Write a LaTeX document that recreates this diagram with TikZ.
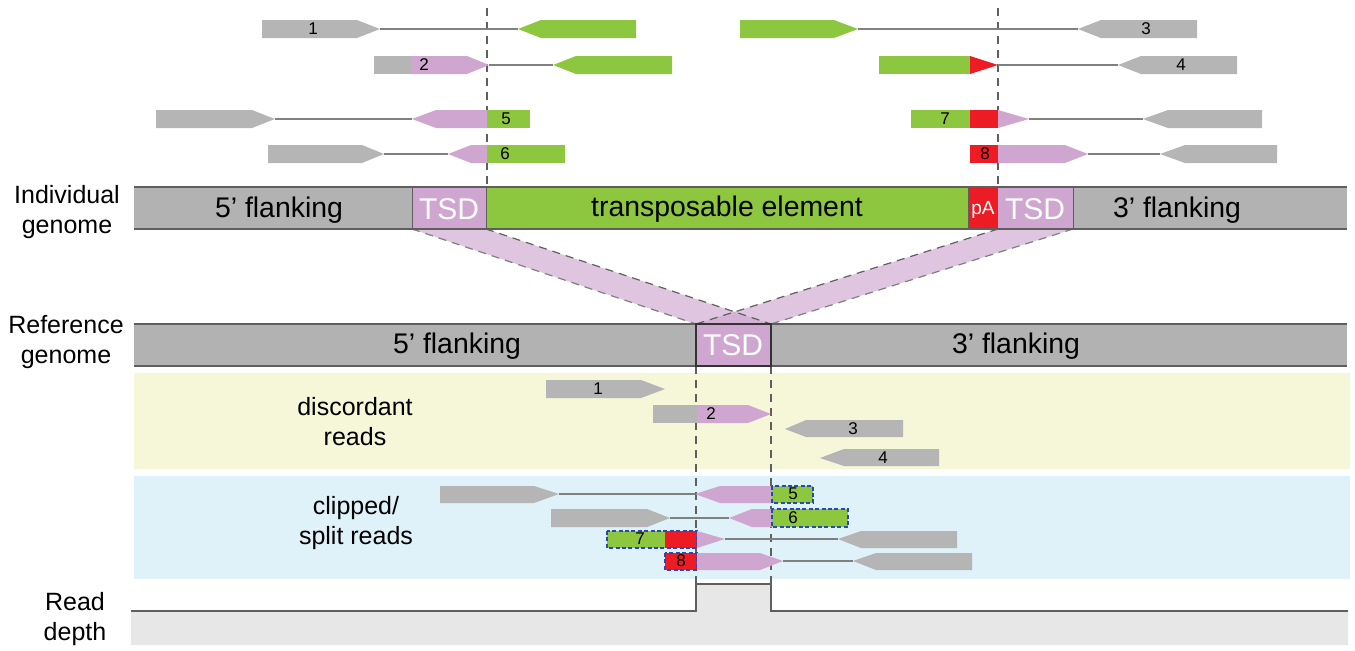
\documentclass[tikz,border=0pt]{standalone}
\usepackage{fontspec}
\setmainfont{Liberation Sans}
\definecolor{rdgray}{RGB}{181,181,181}
\definecolor{bargray}{RGB}{178,178,178}
\definecolor{tegreen}{RGB}{141,198,63}
\definecolor{tsdpink}{RGB}{207,166,207}
\definecolor{pared}{RGB}{237,28,36}
\definecolor{bandyellow}{RGB}{246,246,216}
\definecolor{bandblue}{RGB}{223,241,249}
\definecolor{clipblue}{RGB}{40,70,190}
\definecolor{depthgray}{RGB}{231,231,231}
\definecolor{edgegray}{RGB}{95,95,95}

\begin{document}
\begin{tikzpicture}[x=0.5pt, y=-0.5pt,
    lnk/.style={draw=black!50, line width=0.6pt},
    guide/.style={draw=edgegray, line width=0.6pt, dash pattern=on 4pt off 3pt},
    clipbox/.style={draw=clipblue, line width=0.9pt, dash pattern=on 2pt off 1.2pt},
    barline/.style={draw=edgegray, line width=0.8pt},
    num/.style={font=\fontsize{8.5}{9}\selectfont},
    big/.style={font=\fontsize{14.2}{16}\selectfont},
    tsd/.style={font=\fontsize{15}{16}\selectfont, text=white},
    side/.style={font=\fontsize{12.5}{15}\selectfont, align=center}]

    \useasboundingbox (0,0) rectangle (1355,650);

    %bands
    \fill[bandyellow] (134,373) rectangle (1350,469);
    \fill[bandblue] (134,476) rectangle (1350,579);

    %guides
    \draw[guide] (487,8) -- (487,187);
    \draw[guide] (998,8) -- (998,187);
    \draw[guide] (696,366) -- (696,586);
    \draw[guide] (771,366) -- (771,586);

    %funnel
    \fill[tsdpink, opacity=0.65] (412,229) -- (486,229) -- (771,324) -- (696,324) -- cycle;
    \fill[tsdpink, opacity=0.65] (998,229) -- (1073,229) -- (771,324) -- (696,324) -- cycle;
    \draw[guide, draw=edgegray!80] (412,229) -- (696,324);
    \draw[guide] (486,229) -- (771,324);
    \draw[guide] (998,229) -- (696,324);
    \draw[guide, draw=edgegray!80] (1073,229) -- (771,324);

    %individual genome
    \fill[bargray] (134,187) rectangle (412,229);
    \fill[tsdpink] (412,187) rectangle (486,229);
    \fill[tegreen] (486,187) rectangle (968,229);
    \fill[pared] (968,187) rectangle (998,229);
    \fill[tsdpink] (998,187) rectangle (1073,229);
    \fill[bargray] (1073,187) rectangle (1347,229);
    \draw[barline] (134,187) -- (1347,187) (134,229) -- (1347,229);
    \draw[barline, line width=0.5pt] (412,187) -- (412,229) (486,187) -- (486,229)
        (968,187) -- (968,229) (1073,187) -- (1073,229);
    \node[big] (fl5i) at (279,210) {5’ flanking};
    \node[tsd] (tsd5i) at (449,209) {TSD};
    \node[big] (tei) at (727,209) {transposable element};
    \node[font=\fontsize{9.5}{10}\selectfont, text=white] (pai) at (983,210) {pA};
    \node[tsd] (tsd3i) at (1035,209) {TSD};
    \node[big] (fl3i) at (1177,210) {3’ flanking};
    \node[side] (indiv) at (67,212) {Individual\\genome};

    %reference genome
    \fill[bargray] (134,324) rectangle (1347,366);
    \fill[tsdpink] (696,324) rectangle (771,366);
    \draw[barline] (134,324) -- (1347,324) (134,366) -- (1347,366);
    \draw[draw=black!80, line width=0.8pt] (696,324) rectangle (771,366);
    \node[big] (fl5r) at (457,346) {5’ flanking};
    \node[tsd] (tsdr) at (733,345) {TSD};
    \node[big] (fl3r) at (1016,346) {3’ flanking};
    \node[side] (refg) at (66,342) {Reference\\genome};

    %reads on the individual genome
    \fill[rdgray] (262,20) -- (357,20) -- (380,29) -- (357,38) -- (262,38) -- cycle;
    \draw[lnk] (380,29) -- (518,29);
    \fill[tegreen] (518,29) -- (541,20) -- (636,20) -- (636,38) -- (541,38) -- cycle;
    \node[num] (i1) at (313,29) {1};

    \fill[rdgray] (374,56) rectangle (411,74);
    \fill[tsdpink] (411,56) -- (467,56) -- (489,65) -- (467,74) -- (411,74) -- cycle;
    \draw[lnk] (489,65) -- (553,65);
    \fill[tegreen] (553,65) -- (576,56) -- (672,56) -- (672,74) -- (576,74) -- cycle;
    \node[num] (i2) at (424,65) {2};

    \fill[rdgray] (156,110) -- (252,110) -- (275,119) -- (252,128) -- (156,128) -- cycle;
    \draw[lnk] (275,119) -- (412,119);
    \fill[tsdpink] (412,119) -- (436,110) -- (487,110) -- (487,128) -- (436,128) -- cycle;
    \fill[tegreen] (487,110) rectangle (530,128);
    \node[num] (i5) at (506,119) {5};

    \fill[rdgray] (268,145) -- (362,145) -- (384,154) -- (362,163) -- (268,163) -- cycle;
    \draw[lnk] (384,154) -- (448,154);
    \fill[tsdpink] (448,154) -- (471,145) -- (487,145) -- (487,163) -- (471,163) -- cycle;
    \fill[tegreen] (487,145) rectangle (565,163);
    \node[num] (i6) at (505,154) {6};

    \fill[tegreen] (740,20) -- (834,20) -- (858,29) -- (834,38) -- (740,38) -- cycle;
    \draw[lnk] (858,29) -- (1078,29);
    \fill[rdgray] (1078,29) -- (1101,20) -- (1197,20) -- (1197,38) -- (1101,38) -- cycle;
    \node[num] (i3) at (1146,29) {3};

    \fill[tegreen] (879,56) rectangle (970,74);
    \fill[pared] (970,56) -- (998,65) -- (970,74) -- cycle;
    \draw[lnk] (998,65) -- (1118,65);
    \fill[rdgray] (1118,65) -- (1141,56) -- (1237,56) -- (1237,74) -- (1141,74) -- cycle;
    \node[num] (i4) at (1181,65) {4};

    \fill[tegreen] (911,110) rectangle (970,128);
    \fill[pared] (970,110) rectangle (998,128);
    \fill[tsdpink] (998,110) -- (1029,119) -- (998,128) -- cycle;
    \draw[lnk] (1029,119) -- (1143,119);
    \fill[rdgray] (1143,119) -- (1168,110) -- (1262,110) -- (1262,128) -- (1168,128) -- cycle;
    \node[num] (i7) at (945,119) {7};

    \fill[pared] (970,145) rectangle (998,163);
    \fill[tsdpink] (998,145) -- (1065,145) -- (1088,154) -- (1065,163) -- (998,163) -- cycle;
    \draw[lnk] (1088,154) -- (1160,154);
    \fill[rdgray] (1160,154) -- (1185,145) -- (1277,145) -- (1277,163) -- (1185,163) -- cycle;
    \node[num] (i8) at (985,154) {8};

    %discordant reads
    \node[side] (disc) at (355,422) {discordant\\reads};
    \fill[rdgray] (546,380) -- (641,380) -- (665,389) -- (641,398) -- (546,398) -- cycle;
    \node[num] (d1) at (598,389) {1};
    \fill[rdgray] (653,405) rectangle (697,423);
    \fill[tsdpink] (697,405) -- (748,405) -- (771,414) -- (748,423) -- (697,423) -- cycle;
    \node[num] (d2) at (711,414) {2};
    \fill[rdgray] (785,429) -- (806,420) -- (903,420) -- (903,437) -- (806,437) -- cycle;
    \node[num] (d3) at (853,429) {3};
    \fill[rdgray] (820,458) -- (844,449) -- (939,449) -- (939,466) -- (844,466) -- cycle;
    \node[num] (d4) at (883,458) {4};

    %clipped reads
    \node[side] (clip) at (356,523) {clipped/\\split reads};
    \fill[rdgray] (440,486) -- (534,486) -- (559,494) -- (534,503) -- (440,503) -- cycle;
    \draw[lnk] (559,494) -- (695,494);
    \fill[tsdpink] (695,494) -- (720,486) -- (772,486) -- (772,503) -- (720,503) -- cycle;
    \fill[tegreen] (772,486) rectangle (813,503);
    \draw[clipbox] (772,486) rectangle (813,503);
    \node[num] (c5) at (793,494) {5};

    \fill[rdgray] (551,509) -- (647,509) -- (670,518) -- (647,527) -- (551,527) -- cycle;
    \draw[lnk] (670,518) -- (729,518);
    \fill[tsdpink] (729,518) -- (752,509) -- (772,509) -- (772,527) -- (752,527) -- cycle;
    \fill[tegreen] (772,509) rectangle (848,527);
    \draw[clipbox] (772,509) rectangle (848,527);
    \node[num] (c6) at (793,518) {6};

    \fill[tegreen] (607,531) rectangle (665,548);
    \fill[pared] (665,531) rectangle (697,548);
    \draw[clipbox] (607,531) rectangle (697,548);
    \fill[tsdpink] (697,531) -- (725,539) -- (697,548) -- cycle;
    \draw[lnk] (725,539) -- (838,539);
    \fill[rdgray] (838,539) -- (861,531) -- (957,531) -- (957,548) -- (861,548) -- cycle;
    \node[num] (c7) at (640,539) {7};

    \fill[pared] (665,553) rectangle (697,570);
    \draw[clipbox] (665,553) rectangle (697,570);
    \fill[tsdpink] (697,553) -- (760,553) -- (783,561) -- (760,570) -- (697,570) -- cycle;
    \draw[lnk] (783,561) -- (853,561);
    \fill[rdgray] (853,561) -- (876,553) -- (972,553) -- (972,570) -- (876,570) -- cycle;
    \node[num] (c8) at (681,561) {8};

    %read depth
    \fill[depthgray] (131,611) -- (696,611) -- (696,584) -- (771,584) -- (771,611)
        -- (1348,611) -- (1348,645) -- (131,645) -- cycle;
    \draw[draw=edgegray, line width=1.2pt] (131,611) -- (696,611) -- (696,584)
        -- (771,584) -- (771,611) -- (1348,611);
    \node[side] (depth) at (75,619) {Read\\depth};

\end{tikzpicture}
\end{document}
